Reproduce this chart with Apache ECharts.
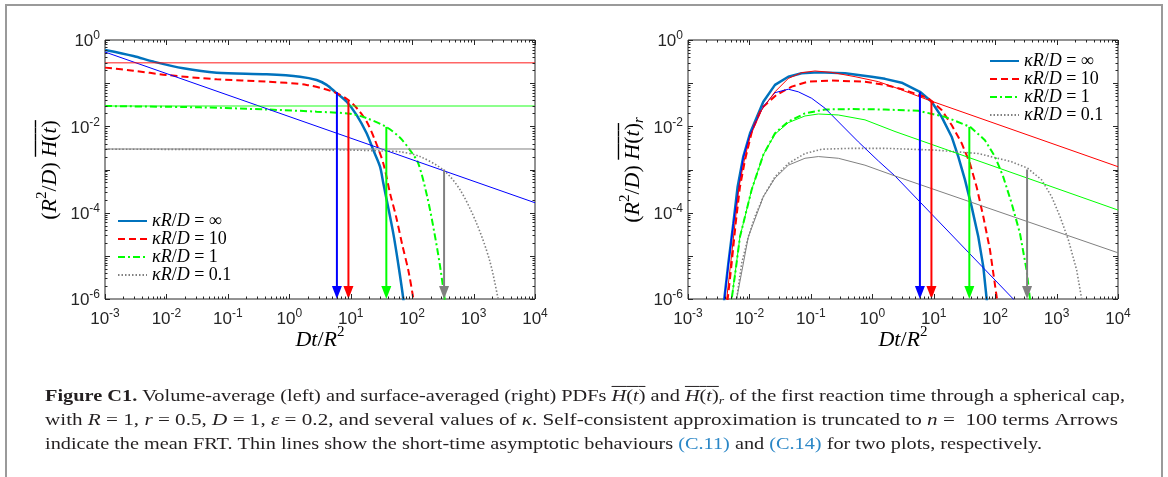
<!DOCTYPE html>
<html>
<head>
<meta charset="utf-8">
<title>Figure C1</title>
<script src="https://cdn.jsdelivr.net/npm/echarts@6.0.0/dist/echarts.min.js"></script>
<style>
  html, body { margin: 0; padding: 0; background: #fff; }
  #main { width: 1168px; height: 477px; }
</style>
</head>
<body>
<div id="main"></div>
<script>
// legend names
const kappaNames = ['κR/D = ∞', 'κR/D = 10', 'κR/D = 1', 'κR/D = 0.1'];

// axis ranges (exponents of ten)
const xExp = [-3, 4];
const yExp = [-6, 0];

// mean FRT arrows (same in both plots): time and height of arrow start
const arrowT = [5.96, 9.18, 38.0, 331];
const arrowTop = [0.062, 0.040, 0.0097, 0.0010];

// ---- left plot, volume average: [log10 t, log10 H] ----
const volInf = [[-3,-0.232],[-2.539,-0.371],[-2.213,-0.50],[-1.725,-0.656],[-1.182,-0.757],[-0.368,-0.795],
  [0.174,-0.85],[0.445,-0.927],[0.608,-1.04],[0.76,-1.22],[0.934,-1.43],[1.097,-1.74],[1.259,-2.16],
  [1.368,-2.55],[1.476,-2.93],[1.531,-3.32],[1.693,-4.48],[1.775,-5.2],[1.856,-6.0],[1.88,-6.4]];
const volK10 = [[-3,-0.64],[-2.539,-0.71],[-2.0,-0.81],[-1.182,-0.91],[-0.368,-0.965],[0.282,-1.04],
  [0.717,-1.20],[0.961,-1.39],[1.124,-1.62],[1.259,-1.89],[1.395,-2.32],[1.531,-2.86],[1.64,-3.55],
  [1.74,-4.1],[1.84,-4.75],[1.94,-5.35],[2.02,-6.0],[2.05,-6.3]];
const volK1 = [[-3,-1.53],[-1.453,-1.56],[-0.368,-1.61],[0.445,-1.66],[0.988,-1.71],[1.259,-1.81],
  [1.585,-2.02],[1.80,-2.26],[1.965,-2.55],[2.10,-2.86],[2.25,-3.66],[2.36,-4.45],[2.45,-5.2],[2.53,-6.0],[2.56,-6.3]];
const volK01 = [[-3,-2.53],[0,-2.54],[1.0,-2.55],[1.5,-2.57],[1.802,-2.59],[2.127,-2.70],[2.507,-3.01],
  [2.78,-3.47],[3.05,-4.25],[3.26,-5.10],[3.40,-6.0],[3.43,-6.3]];
// short-time asymptotics (thin lines)
const volAsymInf = [[-3,-0.278],[4,-3.77]];
const volAsym10 = [[-3,-0.525],[4,-0.525]];
const volAsym1 = [[-3,-1.53],[4,-1.53]];
const volAsym01 = [[-3,-2.525],[4,-2.525]];

// ---- right plot, surface average ----
const surfInf = [[-2.43,-6.3],[-2.409,-6.0],[-2.343,-5.17],[-2.262,-4.25],[-2.192,-3.40],[-2.10,-2.70],[-1.99,-2.16],
  [-1.774,-1.43],[-1.584,-1.04],[-1.367,-0.85],[-1.15,-0.77],[-0.878,-0.75],[-0.444,-0.77],[-0.01,-0.85],
  [0.207,-0.90],[0.478,-0.99],[0.776,-1.20],[0.966,-1.43],[1.129,-1.78],[1.292,-2.24],[1.40,-2.70],
  [1.509,-3.24],[1.617,-3.86],[1.726,-4.56],[1.807,-5.25],[1.862,-6.0],[1.88,-6.3]];
const surfK10 = [[-2.37,-6.3],[-2.354,-6.0],[-2.289,-5.17],[-2.224,-4.25],[-2.154,-3.40],[-2.072,-2.78],[-1.953,-2.08],
  [-1.801,-1.58],[-1.557,-1.27],[-1.312,-1.08],[-1.041,-0.965],[-0.661,-0.94],[-0.119,-0.965],[0.207,-1.04],
  [0.533,-1.16],[0.912,-1.35],[1.129,-1.62],[1.292,-1.97],[1.455,-2.39],[1.59,-2.86],[1.698,-3.40],
  [1.807,-4.09],[1.916,-4.86],[2.03,-6.0],[2.05,-6.3]];
const surfK1 = [[-2.31,-6.3],[-2.289,-6.0],[-2.224,-5.33],[-2.154,-4.56],[-2.072,-4.09],[-1.964,-3.47],[-1.774,-2.66],
  [-1.584,-2.16],[-1.367,-1.89],[-1.096,-1.70],[-0.77,-1.61],[-0.336,-1.60],[0.207,-1.61],[0.749,-1.64],
  [1.183,-1.78],[1.59,-2.01],[1.834,-2.32],[1.997,-2.70],[2.132,-3.17],[2.268,-3.78],[2.404,-4.48],
  [2.512,-5.33],[2.567,-6.0],[2.58,-6.3]];
const surfK01 = [[-2.23,-6.3],[-2.208,-6.0],[-2.126,-5.17],[-2.018,-4.56],[-1.909,-4.09],[-1.774,-3.63],[-1.584,-3.17],
  [-1.367,-2.86],[-1.096,-2.63],[-0.824,-2.53],[-0.336,-2.51],[0.207,-2.51],[1.021,-2.55],[1.726,-2.63],
  [2.268,-2.82],[2.529,-2.97],[2.757,-3.24],[2.92,-3.63],[3.056,-4.09],[3.192,-4.63],[3.327,-5.33],[3.409,-6.0],[3.42,-6.3]];
const surfAsymInf = [[-2.43,-6.3],[-2.409,-6.0],[-2.262,-4.25],[-2.10,-2.72],[-1.99,-2.2],[-1.88,-1.85],[-1.774,-1.545],
  [-1.584,-1.22],[-1.367,-1.14],[-1.204,-1.20],[-0.987,-1.35],[-0.77,-1.58],[-0.499,-1.97],[-0.227,-2.36],
  [0.098,-2.80],[0.37,-3.15],[2.295,-6.0],[2.5,-6.3]];
const surfAsym10 = [[-2.39,-6.3],[-2.37,-6.0],[-2.305,-5.17],[-2.235,-4.25],[-2.17,-3.40],[-2.083,-2.78],[-1.99,-2.24],
  [-1.80,-1.62],[-1.584,-1.20],[-1.367,-0.89],[-1.15,-0.757],[-0.933,-0.718],[-0.661,-0.75],[-0.28,-0.85],
  [0.098,-0.965],[0.37,-1.10],[0.94,-1.405],[4.0,-2.935]];
const surfAsym1 = [[-2.31,-6.3],[-2.289,-6.0],[-2.154,-4.56],[-1.964,-3.47],[-1.774,-2.66],[-1.584,-2.18],[-1.367,-1.915],
  [-1.096,-1.76],[-0.878,-1.714],[-0.553,-1.737],[-0.119,-1.85],[0.37,-2.12],[4.0,-3.94]];
const surfAsym01 = [[-2.23,-6.3],[-2.208,-6.0],[-2.018,-4.56],[-1.774,-3.63],[-1.584,-3.2],[-1.367,-2.90],[-1.096,-2.74],
  [-0.878,-2.70],[-0.553,-2.74],[-0.119,-2.90],[0.37,-3.15],[4.0,-4.93]];

// caption text, split into styled pieces: [text, style, overline]
const captionLines = [
  [['Figure C1.', 'b'], [' Volume-average (left) and surface-averaged (right) PDFs ', 'n'],
   ['H', 'i', 1], ['(', 'n', 1], ['t', 'i', 1], [')', 'n', 1], [' and ', 'n'],
   ['H', 'i', 1], ['(', 'n', 1], ['t', 'i', 1], [')', 'n', 1], ['r', 'sub'],
   [' of the first reaction time through a spherical cap,', 'n']],
  [['with ', 'n'], ['R', 'i'], [' = 1, ', 'n'], ['r', 'i'], [' = 0.5, ', 'n'], ['D', 'i'], [' = 1, ', 'n'],
   ['ε', 'i'], [' = 0.2, and several values of ', 'n'], ['κ', 'i'],
   ['. Self-consistent approximation is truncated to ', 'n'], ['n', 'i'], [' =  100 terms Arrows', 'n']],
  [['indicate the mean FRT. Thin lines show the short-time asymptotic behaviours ', 'n'], ['(C.11)', 'c'],
   [' and ', 'n'], ['(C.14)', 'c'], [' for two plots, respectively.', 'n']]
];
const yTitleLeft = [['(', 'n'], ['R', 'i'], ['2', 'sup'], ['/', 'n'], ['D', 'i'], [')', 'n'], [' ', 'n'],
  ['H', 'i', 1], ['(', 'n', 1], ['t', 'i', 1], [')', 'n', 1]];
const yTitleRight = yTitleLeft.concat([['r', 'sub']]);
const xTitle = [['Dt', 'i'], ['/', 'n'], ['R', 'i'], ['2', 'sup']];

const SANS = "'Liberation Sans', Arial, sans-serif";
const SERIF = "'Liberation Serif', 'Times New Roman', serif";
const axisColor = '#262626';
const thickColors = ['#0072BD', '#FF0000', '#00FF00', '#808080'];
const arrowColors = ['#0000FF', '#FF0000', '#00FF00', '#808080'];

const toPts = arr => arr.map(p => [Math.pow(10, p[0]), Math.pow(10, p[1])]);

// ---- text helpers (measure with canvas so pieces line up) ----
const mctx = document.createElement('canvas').getContext('2d');
function pieceFont(st, size) {
  const italic = (st === 'i' || st === 'sub') ? 'italic' : 'normal';
  const weight = st === 'b' ? 'bold' : 'normal';
  const fs = (st === 'sub' || st === 'sup') ? Math.round(size * 0.68) : size;
  return { italic, weight, fs };
}
function textRun(pieces, size, family, color) {
  const kids = [];
  let x = 0;
  pieces.forEach(([t, st, ov]) => {
    const f = pieceFont(st, size);
    mctx.font = f.italic + ' ' + f.weight + ' ' + f.fs + 'px ' + family;
    const w = mctx.measureText(t).width;
    let dy = 0;
    if (st === 'sup') dy = -size * 0.38;
    if (st === 'sub') dy = size * 0.28;
    kids.push({
      type: 'text', x: x, y: dy, silent: true,
      style: { text: t, fontSize: f.fs, fontFamily: family, fontStyle: f.italic, fontWeight: f.weight,
        fill: st === 'c' ? '#2a86c6' : color, align: 'left', verticalAlign: 'middle' }
    });
    if (ov) {
      kids.push({ type: 'line', silent: true, shape: { x1: x, y1: -size * 0.66, x2: x + w, y2: -size * 0.66 },
        style: { stroke: color, lineWidth: Math.max(1, size / 16) } });
    }
    x += w;
  });
  return { kids, width: x };
}

// ---- ticks (major and minor, inside, on all four sides) ----
function tickData() {
  const d = [];
  for (let e = xExp[0]; e <= xExp[1]; e++) {
    for (let k = 1; k <= 9; k++) {
      if (e === xExp[1] && k > 1) break;
      d.push([k * Math.pow(10, e), 1e-3, 0, k === 1 ? 1 : 0]);
    }
  }
  for (let e = yExp[0]; e <= yExp[1]; e++) {
    for (let k = 1; k <= 9; k++) {
      if (e === yExp[1] && k > 1) break;
      d.push([1, k * Math.pow(10, e), 1, k === 1 ? 1 : 0]);
    }
  }
  return d;
}
function tickRender(params, api) {
  const cs = params.coordSys;
  const len = api.value(3) ? 5 : 2.5;
  const st = { stroke: axisColor, lineWidth: 1 };
  if (api.value(2) === 0) {
    const px = Math.round(api.coord([api.value(0), 1])[0]) + 0.5;
    return { type: 'group', children: [
      { type: 'line', shape: { x1: px, y1: cs.y + cs.height, x2: px, y2: cs.y + cs.height - len }, style: st },
      { type: 'line', shape: { x1: px, y1: cs.y, x2: px, y2: cs.y + len }, style: st }
    ] };
  }
  const py = Math.round(api.coord([1, api.value(1)])[1]) + 0.5;
  return { type: 'group', children: [
    { type: 'line', shape: { x1: cs.x, y1: py, x2: cs.x + len, y2: py }, style: st },
    { type: 'line', shape: { x1: cs.x + cs.width, y1: py, x2: cs.x + cs.width - len, y2: py }, style: st }
  ] };
}

// ---- arrows for the mean FRT ----
function arrowRender(params, api) {
  const top = api.coord([api.value(0), api.value(1)]);
  const bot = api.coord([api.value(0), Math.pow(10, yExp[0])]);
  const c = arrowColors[params.dataIndex];
  const hw = 5, hh = 13;
  return { type: 'group', children: [
    { type: 'line', shape: { x1: top[0], y1: top[1], x2: bot[0], y2: bot[1] - hh + 1 }, style: { stroke: c, lineWidth: 2 } },
    { type: 'polygon', shape: { points: [[bot[0] - hw, bot[1] - hh], [bot[0] + hw, bot[1] - hh], [bot[0], bot[1]]] }, style: { fill: c } }
  ] };
}

function curve(name, pts, gi, color, width, dash, z, smooth) {
  return {
    name: name, type: 'line', xAxisIndex: gi, yAxisIndex: gi, data: toPts(pts),
    symbol: 'none', showSymbol: false, smooth: smooth || false, clip: true, silent: true, z: z,
    lineStyle: { color: color, width: width, type: dash }, itemStyle: { color: color },
    emphasis: { disabled: true }
  };
}

const dashTypes = ['solid', [7, 4], [7, 3, 2, 3], [1.5, 2]];
const thickWidths = [2.5, 2, 2, 1.6];

const series = [];
[[volInf, volK10, volK1, volK01], [surfInf, surfK10, surfK1, surfK01]].forEach((set, gi) => {
  set.forEach((pts, i) => series.push(curve(kappaNames[i], pts, gi, thickColors[i], thickWidths[i], dashTypes[i], 2,
    gi === 0 ? 0.3 : 0)));
});
const volThinColors = ['#0000FF', 'rgba(255,0,0,0.6)', 'rgba(0,255,0,0.6)', '#808080'];
const surfThinColors = ['#0000FF', '#FF0000', '#00FF00', '#808080'];
[volAsymInf, volAsym10, volAsym1, volAsym01].forEach((pts, i) =>
  series.push(curve('asymptotic ' + i, pts, 0, volThinColors[i], i === 0 || i === 3 ? 1 : 1.5, 'solid', 3)));
[surfAsymInf, surfAsym10, surfAsym1, surfAsym01].forEach((pts, i) =>
  series.push(curve('asymptotic r ' + i, pts, 1, surfThinColors[i], 1, 'solid', 3)));
[0, 1].forEach(gi => {
  series.push({ name: 'mean FRT', type: 'custom', xAxisIndex: gi, yAxisIndex: gi, silent: true, z: 4,
    renderItem: arrowRender, data: arrowT.map((t, i) => [t, arrowTop[i]]) });
  series.push({ name: 'ticks', type: 'custom', xAxisIndex: gi, yAxisIndex: gi, silent: true, z: 5,
    renderItem: tickRender, data: tickData() });
});

const grids = [
  { left: 105, top: 40, width: 430, height: 259 },
  { left: 688, top: 40, width: 430, height: 259 }
];
const labelRich = {
  b: { fontSize: 17, fontFamily: SANS, color: axisColor, lineHeight: 20, verticalAlign: 'bottom' },
  s: { fontSize: 12, fontFamily: SANS, color: axisColor, lineHeight: 12, verticalAlign: 'top' }
};
const expOf = v => Math.round(Math.log10(v));

const xAxes = grids.map((g, gi) => ({
  type: 'log', logBase: 10, gridIndex: gi, min: Math.pow(10, xExp[0]), max: Math.pow(10, xExp[1]), interval: 1,
  axisLine: { show: false }, axisTick: { show: false }, splitLine: { show: false },
  axisLabel: { margin: 9, formatter: v => '{b|10}{s|' + expOf(v) + '}', rich: labelRich }
}));
const yAxes = grids.map((g, gi) => ({
  type: 'log', logBase: 10, gridIndex: gi, min: Math.pow(10, yExp[0]), max: Math.pow(10, yExp[1]), interval: 1,
  axisLine: { show: false }, axisTick: { show: false }, splitLine: { show: false },
  axisLabel: { margin: 5, formatter: v => (expOf(v) % 2 === 0 ? '{b|10}{s|' + expOf(v) + '}' : ''), rich: labelRich }
}));

const legendRich = {
  i: { fontStyle: 'italic', fontFamily: SERIF, fontSize: 18, color: '#000', lineHeight: 19 },
  n: { fontFamily: SERIF, fontSize: 18, color: '#000', lineHeight: 19 }
};
const legendFmt = name => '{i|κR}{n|/}{i|D}{n| = ' + name.split(' = ')[1] + '}';
const legendBase = {
  data: kappaNames, orient: 'vertical', itemWidth: 29, itemHeight: 12, itemGap: 0,
  formatter: legendFmt, textStyle: { rich: legendRich }, selectedMode: false, padding: 0,
  itemStyle: { opacity: 0 }
};

// ---- graphic: frame, axis titles, caption ----
const graphics = [
  { type: 'polyline', silent: true, shape: { points: [[6, 477], [6, 5], [1162, 5], [1162, 477]] },
    style: { stroke: '#9a9a9a', lineWidth: 2, fill: null } }
];
function placeRun(pieces, size, family, cx, cy, rot) {
  const r = textRun(pieces, size, family, '#000');
  r.kids.forEach(k => {
    if (k.type === 'text') k.x -= r.width / 2;
    else { k.shape.x1 -= r.width / 2; k.shape.x2 -= r.width / 2; }
  });
  graphics.push({ type: 'group', x: cx, y: cy, rotation: rot, children: r.kids });
}
placeRun(yTitleLeft, 22, SERIF, 50, 170, Math.PI / 2);
placeRun(yTitleRight, 22, SERIF, 633, 170, Math.PI / 2);
placeRun(xTitle, 22, SERIF, 320, 340, 0);
placeRun(xTitle, 22, SERIF, 903, 340, 0);

const capSize = 16;
const capWidths = [1080, 1073, 997];
const capY = [397, 421, 445];
captionLines.forEach((l, i) => {
  const r = textRun(l, capSize, SERIF, '#231f20');
  graphics.push({ type: 'group', x: 45, y: capY[i], scaleX: capWidths[i] / r.width, children: r.kids });
});

const chart = echarts.init(document.getElementById('main'), null, { renderer: 'canvas' });
chart.setOption({
  animation: false,
  backgroundColor: '#fff',
  grid: grids.map(g => Object.assign({ show: true, borderColor: axisColor, borderWidth: 1, containLabel: false }, g)),
  xAxis: xAxes,
  yAxis: yAxes,
  legend: [
    Object.assign({ left: 117, top: 212 }, legendBase),
    Object.assign({ left: 989, top: 52 }, legendBase)
  ],
  series: series,
  graphic: { elements: graphics }
});
</script>
</body>
</html>
